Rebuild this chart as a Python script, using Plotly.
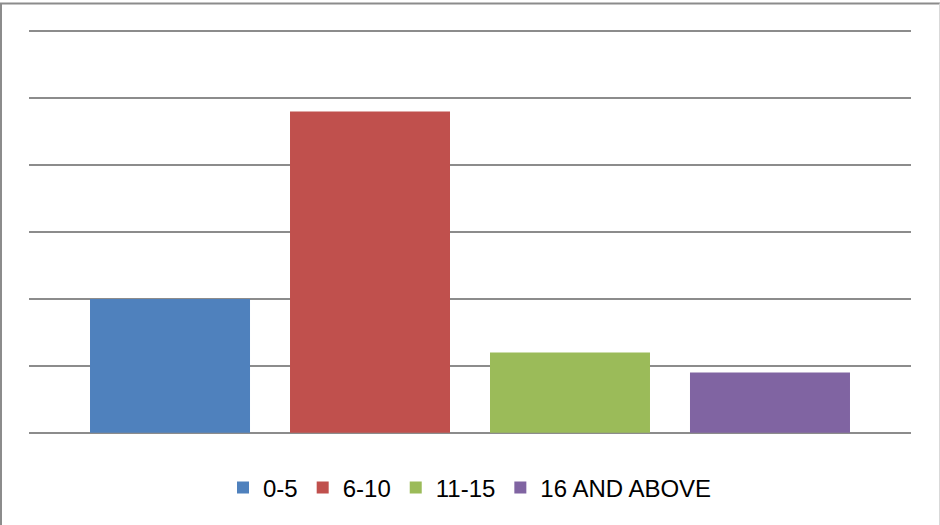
import plotly.graph_objects as go

groups = ["0-5", "6-10", "11-15", "16 AND ABOVE"]
values = [20, 48, 12, 9]
colors = ["#4F81BD", "#C0504D", "#9BBB59", "#8064A2"]
category = [""]

fig = go.Figure()
for name, val, col in zip(groups, values, colors):
    fig.add_trace(go.Bar(x=category, y=[val], name=name, marker=dict(color=col, line=dict(width=0))))

W, H = 940, 525
L, R, T, B = 29, 29, 28, 89
pw, ph = W - L - R, H - T - B

def px(x):
    return (x - L) / pw

def py(y):
    return (H - B - y) / ph

fig.update_layout(
    width=W, height=H,
    margin=dict(l=L, r=R, t=T, b=B),
    paper_bgcolor="white", plot_bgcolor="white",
    barmode="group", bargap=0.093, bargroupgap=0.2,
    font=dict(family="Liberation Sans, Arial, sans-serif", color="black"),
    showlegend=True,
    legend=dict(orientation="h", x=0.5, xanchor="center", y=py(488), yanchor="middle",
                font=dict(size=24, color="black"), itemclick=False, traceorder="normal"),
    xaxis=dict(showticklabels=False, showgrid=False, zeroline=False, showline=False, ticks=""),
    yaxis=dict(range=[-0.5, 60.5], tickvals=[0, 10, 20, 30, 40, 50, 60], showticklabels=False,
               showgrid=True, gridcolor="#8c8c8c", gridwidth=2, zeroline=False, showline=False, ticks=""),
    shapes=[
        dict(type="line", xref="paper", yref="paper", x0=px(1), x1=px(1), y0=py(3.5), y1=py(526),
             line=dict(color="#8c8c8c", width=2)),
        dict(type="line", xref="paper", yref="paper", x0=px(0), x1=px(940), y0=py(3.5), y1=py(3.5),
             line=dict(color="#8c8c8c", width=2)),
        dict(type="line", xref="paper", yref="paper", x0=px(939.5), x1=px(939.5), y0=py(3.5), y1=py(526),
             line=dict(color="#d9d9d9", width=1)),
    ],
)

fig.write_html("out.html", config={"displayModeBar": False},
               post_script="document.body.style.margin='0';document.body.style.overflow='hidden';")
